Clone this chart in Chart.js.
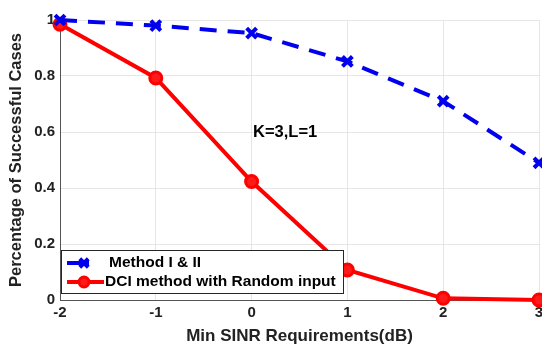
<!DOCTYPE html>
<html lang="en">
<head>
  <meta charset="UTF-8" />
  <title>Successful cases vs SINR</title>
  <script src="https://cdn.jsdelivr.net/npm/chart.js"></script>
  <style>
    html, body {
      margin: 0;
      padding: 0;
      background: #fff;
      overflow: hidden;
    }
    #wrap {
      width: 542px;
      height: 347px;
      overflow: hidden;
    }
  </style>
</head>
<body>
  <div id="wrap">
    <canvas id="sinrChart" width="550" height="347"></canvas>
  </div>

  <script>
    // data
    const sinrValues = [-2, -1, 0, 1, 2, 3];
    const methodOneTwo = [1.0, 0.98, 0.953, 0.852, 0.71, 0.49];
    const dciRandom = [0.985, 0.793, 0.423, 0.107, 0.006, 0.0];
    const yTickValues = [0, 0.2, 0.4, 0.6, 0.8, 1];
    const seriesLabels = ['Method I & II', 'DCI method with Random input'];

    const FONT = 'Liberation Sans, Arial, sans-serif';

    // legend drawn inside the plot, lower-left, like the MATLAB figure
    const insideLegend = {
      id: 'insideLegend',
      afterDatasetsDraw(chart) {
        const { ctx, chartArea } = chart;
        const x0 = chartArea.left + 1, y0 = 250, w = 282, h = 43;
        ctx.save();
        ctx.fillStyle = '#fff';
        ctx.fillRect(x0, y0, w, h);
        ctx.strokeStyle = '#262626';
        ctx.lineWidth = 1;
        ctx.strokeRect(x0 + 0.5, y0 + 0.5, w, h);
        ctx.font = 'bold 15.5px ' + FONT;
        ctx.textBaseline = 'middle';
        chart.data.datasets.forEach((ds, i) => {
          const cy = y0 + 13 + i * 19;
          ctx.setLineDash([]);
          ctx.strokeStyle = ds.borderColor;
          ctx.lineWidth = 4;
          ctx.beginPath();
          ctx.moveTo(x0 + 6, cy);
          ctx.lineTo(x0 + (i === 0 ? 28 : 43), cy);
          ctx.stroke();
          ctx.fillStyle = ds.pointBackgroundColor || ds.borderColor;
          ctx.strokeStyle = ds.pointBorderColor;
          ctx.lineWidth = ds.pointBorderWidth;
          Chart.helpers.drawPoint(ctx, {
            pointStyle: ds.pointStyle,
            radius: ds.pointRadius - 1,
            borderWidth: ds.pointBorderWidth
          }, x0 + 23, cy);
          ctx.fillStyle = '#000';
          ctx.fillText(ds.label, i === 0 ? x0 + 48 : x0 + 44, cy);
        });
        ctx.restore();
      }
    };

    const noteLabel = {
      id: 'noteLabel',
      afterDatasetsDraw(chart) {
        const { ctx, scales } = chart;
        ctx.save();
        ctx.font = 'bold 16.5px ' + FONT;
        ctx.fillStyle = '#000';
        ctx.textAlign = 'center';
        ctx.textBaseline = 'middle';
        ctx.fillText('K=3,L=1', scales.x.getPixelForValue(0.35), scales.y.getPixelForValue(0.6));
        ctx.restore();
      }
    };

    const ctx = document.getElementById('sinrChart').getContext('2d');
    new Chart(ctx, {
      type: 'line',
      data: {
        datasets: [
          {
            label: seriesLabels[0],
            data: sinrValues.map((x, i) => ({ x: x, y: methodOneTwo[i] })),
            borderColor: '#0000ee',
            backgroundColor: '#0000ee',
            borderWidth: 4,
            borderDash: [17, 11],
            pointStyle: 'crossRot',
            pointRadius: 7,
            pointBorderWidth: 4,
            pointBackgroundColor: '#0000ee',
            pointBorderColor: '#0000ee',
            tension: 0
          },
          {
            label: seriesLabels[1],
            data: sinrValues.map((x, i) => ({ x: x, y: dciRandom[i] })),
            borderColor: '#ff0000',
            backgroundColor: '#ff0000',
            borderWidth: 4,
            pointStyle: 'circle',
            pointRadius: 6,
            pointBorderWidth: 3,
            pointBackgroundColor: '#ff1a1a',
            pointBorderColor: '#ff0000',
            tension: 0
          }
        ]
      },
      options: {
        responsive: false,
        animation: false,
        clip: false,
        layout: { padding: { top: 20, left: 7, right: 0, bottom: 0 } },
        plugins: {
          legend: { display: false },
          tooltip: { enabled: false }
        },
        scales: {
          x: {
            type: 'linear',
            min: -2,
            max: 3,
            afterFit(scale) { scale.height = 47; },
            afterBuildTicks(scale) { scale.ticks = sinrValues.map(v => ({ value: v })); },
            grid: { color: '#e6e6e6', drawTicks: false },
            border: { color: '#555', width: 1 },
            ticks: {
              color: '#222',
              padding: 4,
              font: { family: FONT, size: 15, weight: 'bold' }
            },
            title: {
              display: true,
              text: 'Min SINR Requirements(dB)',
              color: '#222',
              padding: { top: 0, bottom: 0 },
              font: { family: FONT, size: 17, weight: 'bold' }
            }
          },
          y: {
            min: 0,
            max: 1,
            afterFit(scale) { scale.width = 53; },
            afterBuildTicks(scale) { scale.ticks = yTickValues.map(v => ({ value: v })); },
            grid: { color: '#e6e6e6', drawTicks: false },
            border: { color: '#555', width: 1 },
            ticks: {
              color: '#222',
              padding: 5,
              font: { family: FONT, size: 15, weight: 'bold' },
              callback: v => String(v)
            },
            title: {
              display: true,
              text: 'Percentage of Successful Cases',
              color: '#222',
              padding: { top: 0, bottom: 1 },
              font: { family: FONT, size: 16.5, weight: 'bold' }
            }
          }
        }
      },
      plugins: [insideLegend, noteLabel]
    });
  </script>
</body>
</html>
